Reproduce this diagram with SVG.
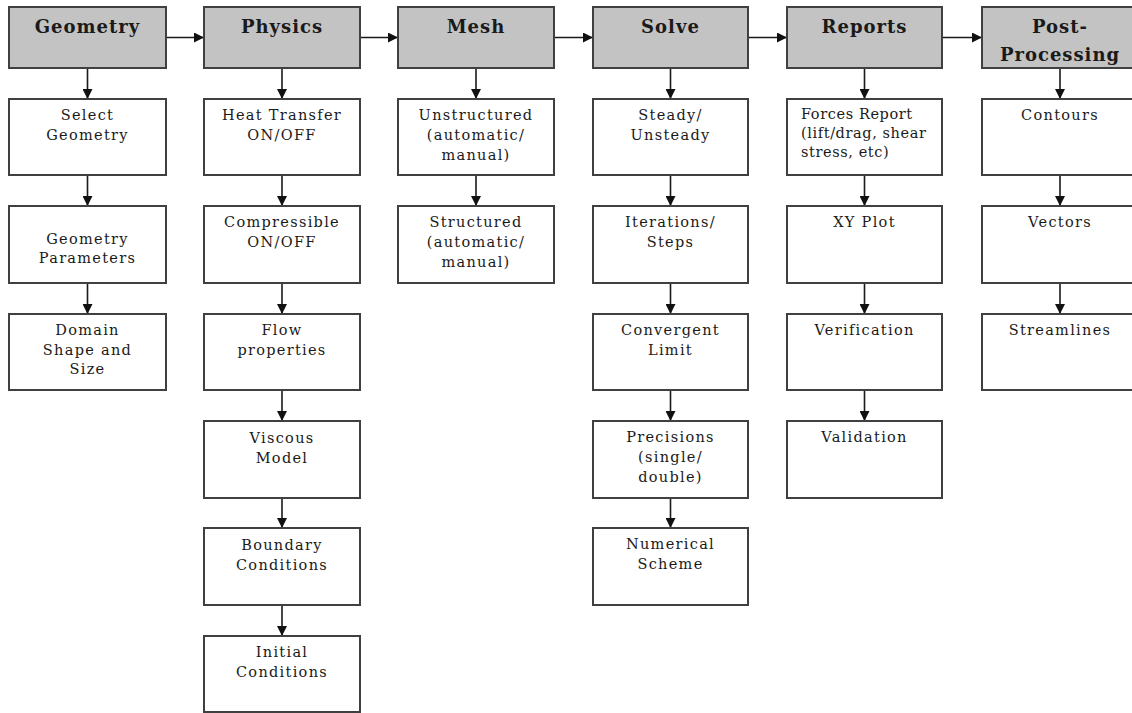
<svg xmlns="http://www.w3.org/2000/svg" width="1132" height="713" viewBox="0 0 1132 713">
<style>
.hdr{fill:#c3c3c3;stroke:#404040;stroke-width:2}
.box{fill:#ffffff;stroke:#404040;stroke-width:2}
.ht{font-family:"DejaVu Serif","Liberation Serif",serif;font-weight:bold;font-size:18px;letter-spacing:1px;fill:#1a1a1a;text-anchor:middle}
.t{font-family:"DejaVu Serif","Liberation Serif",serif;font-size:14.5px;letter-spacing:1.3px;fill:#1a1a1a;text-anchor:middle}
.tl{text-anchor:start;letter-spacing:0.6px}
.c{stroke:#1a1a1a;stroke-width:1.6;fill:none;marker-end:url(#ah)}
</style>
<defs>
<marker id="ah" viewBox="0 0 10 10" refX="10" refY="5" markerWidth="10" markerHeight="10" markerUnits="userSpaceOnUse" orient="auto">
<path d="M0,0 L10,5 L0,10 z" fill="#111"/>
</marker>
</defs>
<rect width="1132" height="713" fill="#ffffff"/>

<g id="connectors">
<line class="c" x1="166" y1="37.5" x2="204" y2="37.5"/>
<line class="c" x1="360" y1="37.5" x2="398" y2="37.5"/>
<line class="c" x1="554" y1="37.5" x2="593" y2="37.5"/>
<line class="c" x1="748" y1="37.5" x2="787" y2="37.5"/>
<line class="c" x1="942" y1="37.5" x2="982" y2="37.5"/>

<line class="c" x1="87.5" y1="68" x2="87.5" y2="99"/>
<line class="c" x1="87.5" y1="175" x2="87.5" y2="206"/>
<line class="c" x1="87.5" y1="283" x2="87.5" y2="314"/>

<line class="c" x1="282" y1="68" x2="282" y2="99"/>
<line class="c" x1="282" y1="175" x2="282" y2="206"/>
<line class="c" x1="282" y1="283" x2="282" y2="314"/>
<line class="c" x1="282" y1="390" x2="282" y2="421"/>
<line class="c" x1="282" y1="498" x2="282" y2="528"/>
<line class="c" x1="282" y1="605" x2="282" y2="636"/>

<line class="c" x1="476" y1="68" x2="476" y2="99"/>
<line class="c" x1="476" y1="175" x2="476" y2="206"/>

<line class="c" x1="670.5" y1="68" x2="670.5" y2="99"/>
<line class="c" x1="670.5" y1="175" x2="670.5" y2="206"/>
<line class="c" x1="670.5" y1="283" x2="670.5" y2="314"/>
<line class="c" x1="670.5" y1="390" x2="670.5" y2="421"/>
<line class="c" x1="670.5" y1="498" x2="670.5" y2="528"/>

<line class="c" x1="864.5" y1="68" x2="864.5" y2="99"/>
<line class="c" x1="864.5" y1="175" x2="864.5" y2="206"/>
<line class="c" x1="864.5" y1="283" x2="864.5" y2="314"/>
<line class="c" x1="864.5" y1="390" x2="864.5" y2="421"/>

<line class="c" x1="1060" y1="68" x2="1060" y2="99"/>
<line class="c" x1="1060" y1="175" x2="1060" y2="206"/>
<line class="c" x1="1060" y1="283" x2="1060" y2="314"/>
</g>

<!-- Column 1: Geometry -->
<g id="geometry"><rect class="hdr" x="9" y="7" width="157" height="61"/><text class="ht" x="87.5" y="33">Geometry</text></g>
<g id="select-geometry"><rect class="box" x="9" y="99" width="157" height="76"/><text class="t" x="87.5" y="120">Select</text><text class="t" x="87.5" y="140">Geometry</text></g>
<g id="geometry-parameters"><rect class="box" x="9" y="206" width="157" height="77"/><text class="t" x="87.5" y="244">Geometry</text><text class="t" x="87.5" y="263">Parameters</text></g>
<g id="domain-shape"><rect class="box" x="9" y="314" width="157" height="76"/><text class="t" x="87.5" y="335">Domain</text><text class="t" x="87.5" y="355">Shape and</text><text class="t" x="87.5" y="374">Size</text></g>

<!-- Column 2: Physics -->
<g id="physics"><rect class="hdr" x="204" y="7" width="156" height="61"/><text class="ht" x="282" y="33">Physics</text></g>
<g id="heat-transfer"><rect class="box" x="204" y="99" width="156" height="76"/><text class="t" x="282" y="120">Heat Transfer</text><text class="t" x="282" y="140">ON/OFF</text></g>
<g id="compressible"><rect class="box" x="204" y="206" width="156" height="77"/><text class="t" x="282" y="227">Compressible</text><text class="t" x="282" y="247">ON/OFF</text></g>
<g id="flow-properties"><rect class="box" x="204" y="314" width="156" height="76"/><text class="t" x="282" y="335">Flow</text><text class="t" x="282" y="355">properties</text></g>
<g id="viscous-model"><rect class="box" x="204" y="421" width="156" height="77"/><text class="t" x="282" y="443">Viscous</text><text class="t" x="282" y="463">Model</text></g>
<g id="boundary-conditions"><rect class="box" x="204" y="528" width="156" height="77"/><text class="t" x="282" y="550">Boundary</text><text class="t" x="282" y="570">Conditions</text></g>
<g id="initial-conditions"><rect class="box" x="204" y="636" width="156" height="76"/><text class="t" x="282" y="657">Initial</text><text class="t" x="282" y="677">Conditions</text></g>

<!-- Column 3: Mesh -->
<g id="mesh"><rect class="hdr" x="398" y="7" width="156" height="61"/><text class="ht" x="476" y="33">Mesh</text></g>
<g id="unstructured"><rect class="box" x="398" y="99" width="156" height="76"/><text class="t" x="476" y="120">Unstructured</text><text class="t" x="476" y="140">(automatic/</text><text class="t" x="476" y="160">manual)</text></g>
<g id="structured"><rect class="box" x="398" y="206" width="156" height="77"/><text class="t" x="476" y="227">Structured</text><text class="t" x="476" y="247">(automatic/</text><text class="t" x="476" y="267">manual)</text></g>

<!-- Column 4: Solve -->
<g id="solve"><rect class="hdr" x="593" y="7" width="155" height="61"/><text class="ht" x="670.5" y="33">Solve</text></g>
<g id="steady"><rect class="box" x="593" y="99" width="155" height="76"/><text class="t" x="670.5" y="120">Steady/</text><text class="t" x="670.5" y="140">Unsteady</text></g>
<g id="iterations"><rect class="box" x="593" y="206" width="155" height="77"/><text class="t" x="670.5" y="227">Iterations/</text><text class="t" x="670.5" y="247">Steps</text></g>
<g id="convergent-limit"><rect class="box" x="593" y="314" width="155" height="76"/><text class="t" x="670.5" y="335">Convergent</text><text class="t" x="670.5" y="355">Limit</text></g>
<g id="precisions"><rect class="box" x="593" y="421" width="155" height="77"/><text class="t" x="670.5" y="442">Precisions</text><text class="t" x="670.5" y="462">(single/</text><text class="t" x="670.5" y="482">double)</text></g>
<g id="numerical-scheme"><rect class="box" x="593" y="528" width="155" height="77"/><text class="t" x="670.5" y="549">Numerical</text><text class="t" x="670.5" y="569">Scheme</text></g>

<!-- Column 5: Reports -->
<g id="reports"><rect class="hdr" x="787" y="7" width="155" height="61"/><text class="ht" x="864.5" y="33">Reports</text></g>
<g id="forces-report"><rect class="box" x="787" y="99" width="155" height="76"/><text class="t tl" x="801" y="119">Forces Report</text><text class="t tl" x="801" y="138">(lift/drag, shear</text><text class="t tl" x="801" y="157">stress, etc)</text></g>
<g id="xy-plot"><rect class="box" x="787" y="206" width="155" height="77"/><text class="t" x="864.5" y="227">XY Plot</text></g>
<g id="verification"><rect class="box" x="787" y="314" width="155" height="76"/><text class="t" x="864.5" y="335">Verification</text></g>
<g id="validation"><rect class="box" x="787" y="421" width="155" height="77"/><text class="t" x="864.5" y="442">Validation</text></g>

<!-- Column 6: Post-Processing -->
<g id="post-processing"><rect class="hdr" x="982" y="7" width="156" height="61"/><text class="ht" x="1060" y="33">Post-</text><text class="ht" x="1060" y="61">Processing</text></g>
<g id="contours"><rect class="box" x="982" y="99" width="156" height="76"/><text class="t" x="1060" y="120">Contours</text></g>
<g id="vectors"><rect class="box" x="982" y="206" width="156" height="77"/><text class="t" x="1060" y="227">Vectors</text></g>
<g id="streamlines"><rect class="box" x="982" y="314" width="156" height="76"/><text class="t" x="1060" y="335">Streamlines</text></g>
</svg>
